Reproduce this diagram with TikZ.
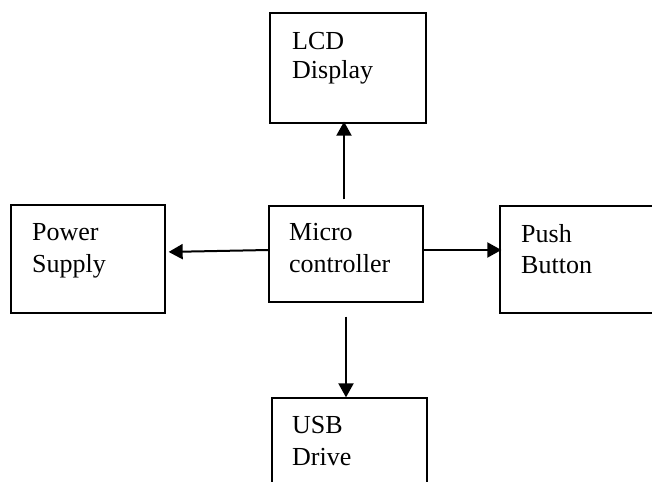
\documentclass[tikz,border=0pt]{standalone}
\usepackage{fontspec}
\setmainfont{Liberation Serif}
\usetikzlibrary{arrows.meta}
\begin{document}
\begin{tikzpicture}[x=1pt,y=-1pt,
  block/.style={draw=black, line width=1.3pt, rectangle, inner sep=0pt},
  lbl/.style={inner sep=0pt, anchor=base west, font=\fontsize{26}{31}\selectfont},
  link/.style={line width=2pt, -{Triangle[length=14pt,width=15pt]}}]
\useasboundingbox (0,0) rectangle (652,481);
% blocks
\node[block, minimum width=156pt, minimum height=110pt] (lcd)   at (348,68)    {};
\node[block, minimum width=154pt, minimum height=108pt] (power) at (88,259)    {};
\node[block, minimum width=154pt, minimum height=96pt]  (micro) at (346,254)   {};
\node[block, minimum width=155pt, minimum height=107pt] (push)  at (577.5,259.5) {};
\node[block, minimum width=155pt, minimum height=110pt] (usb)   at (349.5,453) {};
% labels
\node[lbl] (lcdA)   at (292,50)  {LCD};
\node[lbl] (lcdB)   at (292,79)  {Display};
\node[lbl] (powerA) at (32,240)  {Power};
\node[lbl] (powerB) at (32,272)  {Supply};
\node[lbl] (microA) at (289,240) {Micro};
\node[lbl] (microB) at (289,272) {controller};
\node[lbl] (pushA)  at (521,242) {Push};
\node[lbl] (pushB)  at (521,273) {Button};
\node[lbl] (usbA)   at (292,433) {USB};
\node[lbl] (usbB)   at (292,465) {Drive};
% connectors
\draw[link, shorten <=6pt, shorten >=-2pt] ([xshift=-2pt]micro.north) -- ([xshift=-4pt]lcd.south);
\draw[link, shorten <=14pt] (micro.south) -- ([xshift=-3.5pt]usb.north);
\draw[link, shorten >=3pt] ([yshift=4pt]micro.west) -- ([yshift=7pt]power.east);
\draw[link, shorten >=-2pt] ([yshift=4pt]micro.east) -- ([yshift=9.5pt]push.west);
\end{tikzpicture}
\end{document}
